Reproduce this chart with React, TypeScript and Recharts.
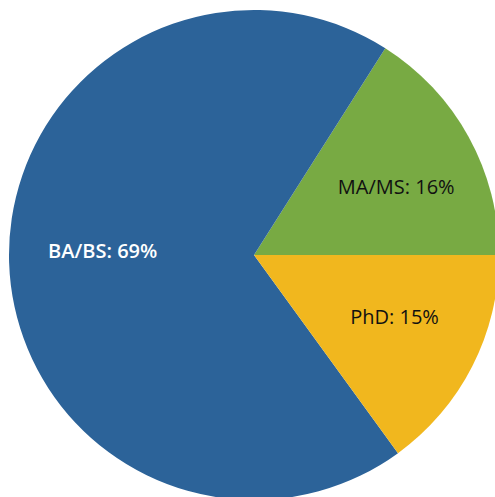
import { PieChart, Pie, Cell } from "recharts";

const DEGREES = ["MA/MS", "BA/BS", "PhD"];
const SHARES = [16, 69, 15];
const COLORS = ["#78aa43", "#2c6399", "#f1b71e"];
const LABEL_COLORS = ["#111111", "#ffffff", "#111111"];
// small per-label nudges so the text sits where the original put it
const LABEL_NUDGE = [
  [7, 6],
  [3, -9],
  [3, -9],
];

const DATA = DEGREES.map((name, i) => ({ name, value: SHARES[i] }));

const RADIAN = Math.PI / 180;

const renderLabel = (props: any) => {
  const { cx, cy, midAngle, outerRadius, index } = props;
  const r = outerRadius * 0.63;
  const x = cx + r * Math.cos(-midAngle * RADIAN) + LABEL_NUDGE[index][0];
  const y = cy + r * Math.sin(-midAngle * RADIAN) + LABEL_NUDGE[index][1];
  return (
    <text
      x={x}
      y={y}
      fill={LABEL_COLORS[index]}
      textAnchor="middle"
      dominantBaseline="central"
      fontFamily="'Open Sans', sans-serif"
      fontSize={20}
      fontWeight={index === 1 ? 600 : 400}
    >
      {`${DEGREES[index]}: ${SHARES[index]}%`}
    </text>
  );
};

export default function App() {
  return (
    <div style={{ position: "absolute", left: 0, top: 0, width: 495, height: 497, background: "#fff" }}>
      <PieChart width={495} height={497} margin={{ top: 0, right: 0, bottom: 0, left: 0 }}>
        <Pie
          data={DATA}
          dataKey="value"
          nameKey="name"
          cx={254}
          cy={255}
          outerRadius={245}
          startAngle={0}
          endAngle={360}
          stroke="none"
          labelLine={false}
          label={renderLabel}
          isAnimationActive={false}
        >
          {DATA.map((d, i) => (
            <Cell key={d.name} fill={COLORS[i]} />
          ))}
        </Pie>
      </PieChart>
    </div>
  );
}
